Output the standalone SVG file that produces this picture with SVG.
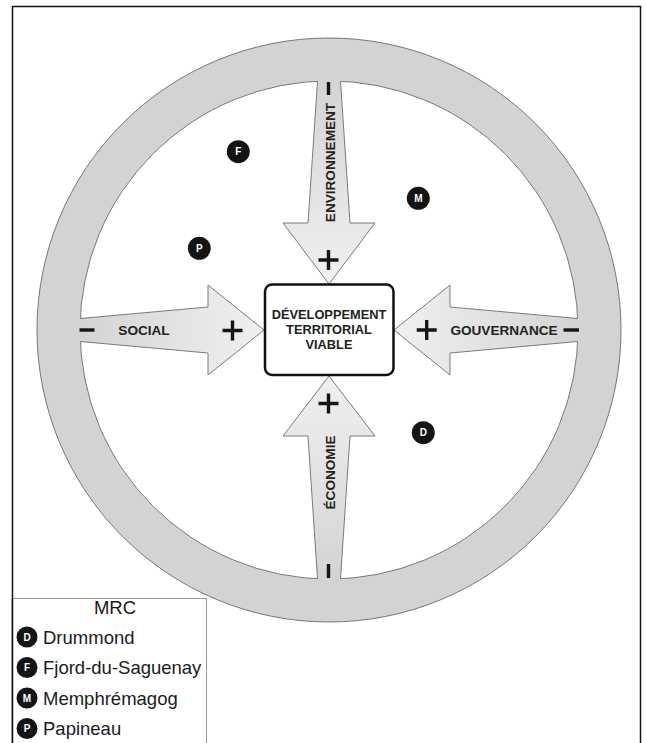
<svg xmlns="http://www.w3.org/2000/svg" width="646" height="743" viewBox="0 0 646 743">
<defs>
<linearGradient id="gR" x1="0" y1="0" x2="1" y2="0"><stop offset="0" stop-color="#d3d3d3"/><stop offset="1" stop-color="#f0f0f0"/></linearGradient>
<linearGradient id="gL" x1="1" y1="0" x2="0" y2="0"><stop offset="0" stop-color="#d3d3d3"/><stop offset="1" stop-color="#f0f0f0"/></linearGradient>
<linearGradient id="gD" x1="0" y1="0" x2="0" y2="1"><stop offset="0" stop-color="#d3d3d3"/><stop offset="1" stop-color="#f0f0f0"/></linearGradient>
<linearGradient id="gU" x1="0" y1="1" x2="0" y2="0"><stop offset="0" stop-color="#d3d3d3"/><stop offset="1" stop-color="#f0f0f0"/></linearGradient>
</defs>
<style>
.as{fill:none;stroke:#7a7a7a;stroke-width:1;stroke-linejoin:miter}
.lbl{font-family:"Liberation Sans",Arial,sans-serif;font-weight:bold;font-size:13.6px;fill:#222;text-anchor:middle}
.box{font-family:"Liberation Sans",Arial,sans-serif;font-weight:bold;font-size:12.8px;fill:#222;text-anchor:middle}
.sign{stroke:#151515;stroke-width:3.4;fill:none}
.dot{fill:#141414}
.dl{font-family:"Liberation Sans",Arial,sans-serif;font-weight:bold;font-size:10px;fill:#fff;text-anchor:middle}
.leg{font-family:"Liberation Sans",Arial,sans-serif;font-size:18.5px;fill:#1a1a1a}
</style>
<rect x="0" y="0" width="646" height="743" fill="#fff"/>
<rect x="12.5" y="6.5" width="628" height="750" fill="none" stroke="#111" stroke-width="1.5"/>

<g id="ring">
<path d="M37 330a292 292 0 1 0 584 0a292 292 0 1 0-584 0ZM80 330a249 249 0 1 0 498 0a249 249 0 1 0-498 0Z" fill="#d3d3d3" fill-rule="evenodd" stroke="#777" stroke-width="1"/>
</g>

<g id="connectors">
<g id="arrow-environnement">
<path d="M317.3 76L317.5 81.3L308 223L283 223L329 284L375 223L350 223L340.5 81.3L340.7 76Z" fill="url(#gD)"/>
<path class="as" d="M317.5 81.3L308 223L283 223L329 284L375 223L350 223L340.5 81.3"/>
<path class="sign" d="M328.5 82V95"/>
<text class="lbl" transform="translate(334.5 162.5) rotate(-90)">ENVIRONNEMENT</text>
<path class="sign" d="M318.5 260H338.5M328.5 250V270"/>
</g>
<g id="arrow-economie">
<path d="M317.3 584L317.5 578.7L308 436L283 436L329 376L375 436L350 436L340.5 578.7L340.7 584Z" fill="url(#gU)"/>
<path class="as" d="M317.5 578.7L308 436L283 436L329 376L375 436L350 436L340.5 578.7"/>
<path class="sign" d="M328.5 564V578"/>
<text class="lbl" transform="translate(334.5 472.5) rotate(-90)">ÉCONOMIE</text>
<path class="sign" d="M318.5 403.5H338.5M328.5 393.5V413.5"/>
</g>
<g id="arrow-social">
<path d="M75 318.2L80.3 318.5L208 307L208 285L264 330L208 375L208 353L80.3 341.5L75 341.8Z" fill="url(#gR)"/>
<path class="as" d="M80.3 318.5L208 307L208 285L264 330L208 375L208 353L80.3 341.5"/>
<path class="sign" d="M79.5 330H94.5"/>
<text class="lbl" x="144" y="335">SOCIAL</text>
<path class="sign" d="M222.5 330.5H242.5M232.5 320.5V340.5"/>
</g>
<g id="arrow-gouvernance">
<path d="M583 318.2L577.7 318.5L450 307L450 285L394 330L450 375L450 353L577.7 341.5L583 341.8Z" fill="url(#gL)"/>
<path class="as" d="M577.7 318.5L450 307L450 285L394 330L450 375L450 353L577.7 341.5"/>
<path class="sign" d="M563.5 330H579"/>
<text class="lbl" x="504" y="335">GOUVERNANCE</text>
<path class="sign" d="M416.7 330H436.7M426.7 320V340"/>
</g>
</g>

<g id="center">
<rect x="265" y="284.5" width="128.5" height="90.5" rx="7" fill="#fff" stroke="#111" stroke-width="2.5"/>
<text class="box" x="329" y="319">DÉVELOPPEMENT</text>
<text class="box" x="329" y="334">TERRITORIAL</text>
<text class="box" x="329" y="349">VIABLE</text>
</g>

<g id="dot-F"><circle class="dot" cx="238.3" cy="151.7" r="11.5"/><text class="dl" x="238.3" y="155.3">F</text></g>
<g id="dot-M"><circle class="dot" cx="418.3" cy="198.3" r="11.5"/><text class="dl" x="418.3" y="201.9">M</text></g>
<g id="dot-P"><circle class="dot" cx="199.3" cy="248.3" r="11.5"/><text class="dl" x="199.3" y="251.9">P</text></g>
<g id="dot-D"><circle class="dot" cx="423.3" cy="432.7" r="11.5"/><text class="dl" x="423.3" y="436.3">D</text></g>

<g id="legend">
<rect x="12.5" y="598.5" width="194" height="160" fill="#fff" stroke="#999" stroke-width="1"/>
<line x1="12.5" y1="598" x2="12.5" y2="743" stroke="#111" stroke-width="1.5"/>
<text class="leg" x="115" y="614" text-anchor="middle" font-size="18">MRC</text>
<circle class="dot" cx="27" cy="637" r="10.5"/><text class="dl" x="27" y="640.6">D</text>
<text class="leg" x="43" y="643.5">Drummond</text>
<circle class="dot" cx="27" cy="667.5" r="10.5"/><text class="dl" x="27" y="671.1">F</text>
<text class="leg" x="43" y="674">Fjord-du-Saguenay</text>
<circle class="dot" cx="27" cy="698" r="10.5"/><text class="dl" x="27" y="701.6">M</text>
<text class="leg" x="43" y="704.5">Memphrémagog</text>
<circle class="dot" cx="27" cy="728.5" r="10.5"/><text class="dl" x="27" y="732.1">P</text>
<text class="leg" x="43" y="735">Papineau</text>
</g>
</svg>
